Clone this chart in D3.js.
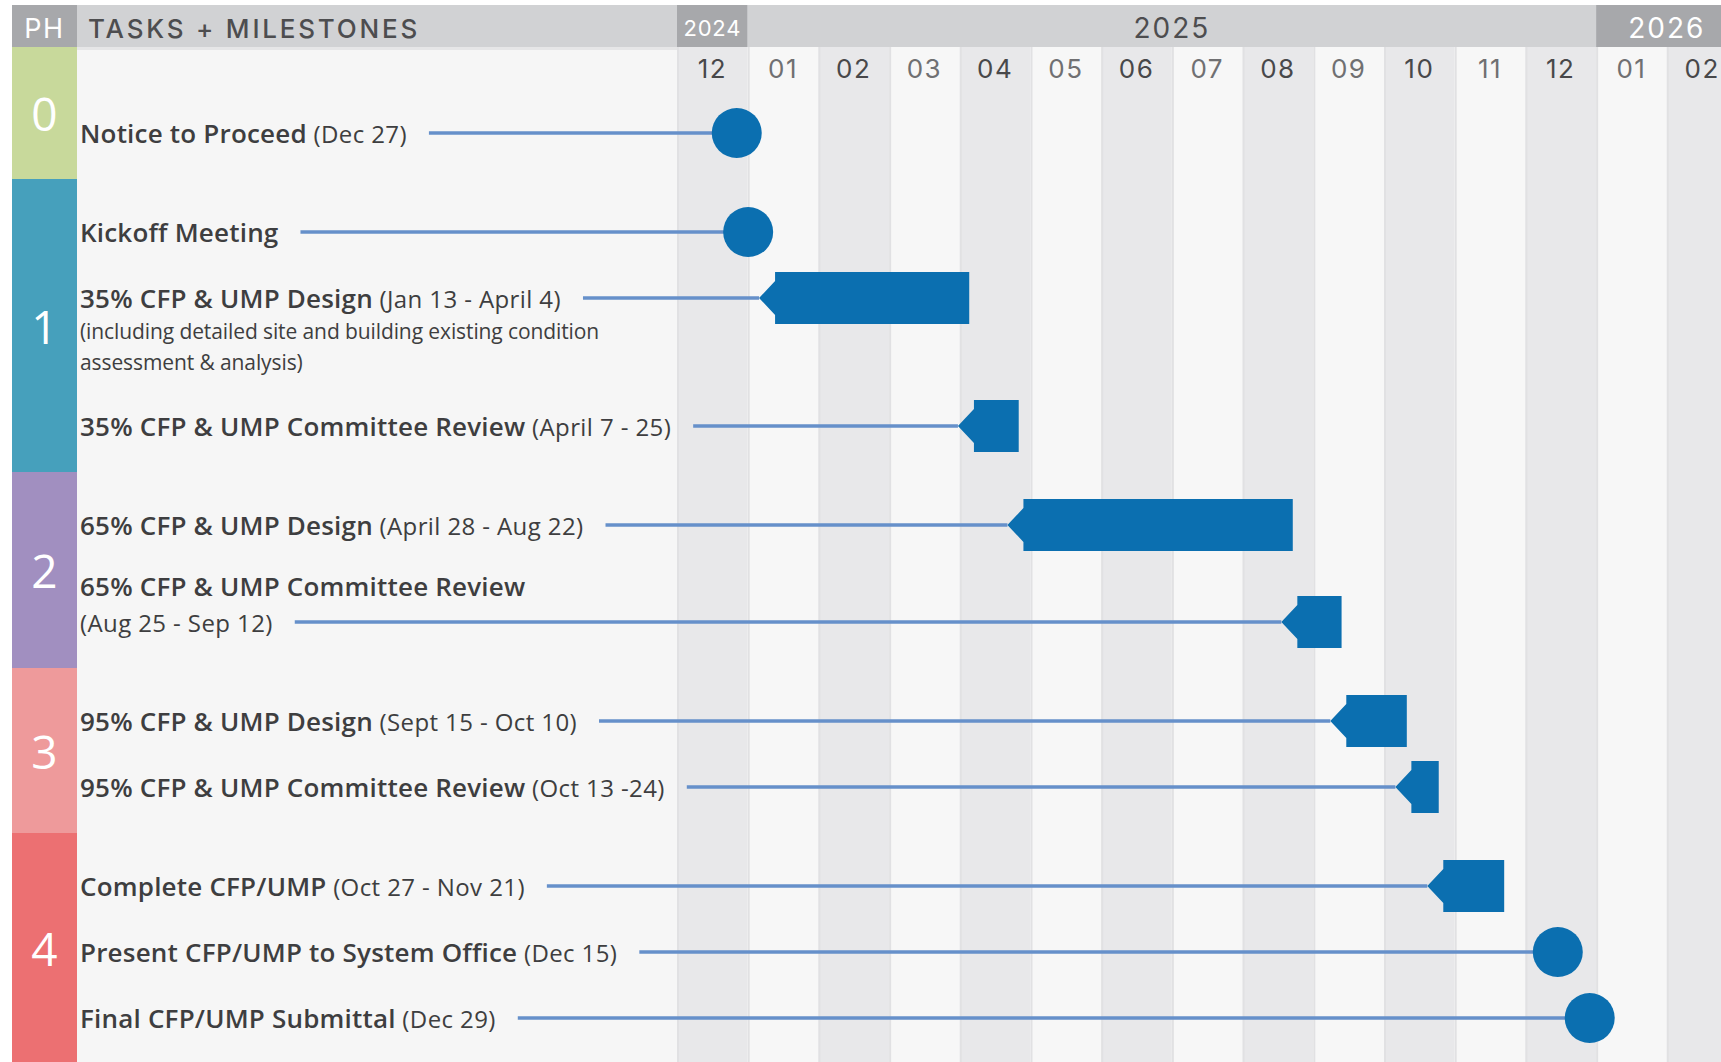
<!DOCTYPE html>
<html>
<head>
<meta charset="utf-8">
<script src="https://cdn.jsdelivr.net/npm/d3@7"></script>
<style>
  html, body { margin: 0; padding: 0; background: #fff; }
  svg { display: block; }
</style>
</head>
<body>
<svg id="chart" width="1721" height="1062"></svg>
<script>
// timeline data
var months = ["2024-12", "2025-01", "2025-02", "2025-03", "2025-04", "2025-05", "2025-06",
              "2025-07", "2025-08", "2025-09", "2025-10", "2025-11", "2025-12", "2026-01", "2026-02"];
var monthLabels = ["12", "01", "02", "03", "04", "05", "06", "07", "08", "09", "10", "11", "12", "01", "02"];
var years = ["2024", "2025", "2026"];

var phases = ["0", "1", "2", "3", "4"];
var phaseColors = ["#c8d99b", "#46a0bc", "#a18fc0", "#ee9a9b", "#ec7072"];

var taskNames = ["Notice to Proceed", "Kickoff Meeting", "35% CFP & UMP Design",
  "35% CFP & UMP Committee Review", "65% CFP & UMP Design", "65% CFP & UMP Committee Review",
  "95% CFP & UMP Design", "95% CFP & UMP Committee Review", "Complete CFP/UMP",
  "Present CFP/UMP to System Office", "Final CFP/UMP Submittal"];
var taskDates = ["(Dec 27)", "", "(Jan 13 - April 4)", "(April 7 - 25)", "(April 28 - Aug 22)",
  "(Aug 25 - Sep 12)", "(Sept 15 - Oct 10)", "(Oct 13 -24)", "(Oct 27 - Nov 21)", "(Dec 15)", "(Dec 29)"];
var taskNotes = [[], [], ["(including detailed site and building existing condition", "assessment & analysis)"],
  [], [], [], [], [], [], [], []];
var taskDateOnNewLine = [false, false, false, false, false, true, false, false, false, false, false];
var taskPhase = [0, 1, 1, 1, 2, 2, 3, 3, 4, 4, 4];
var taskStart = ["2024-12-27", "2025-01-01", "2025-01-13", "2025-04-07", "2025-04-28", "2025-08-25",
  "2025-09-15", "2025-10-13", "2025-10-27", "2025-12-15", "2025-12-29"];
var taskEnd = [null, null, "2025-04-04", "2025-04-25", "2025-08-22", "2025-09-12",
  "2025-10-10", "2025-10-24", "2025-11-21", null, null];

var width = 1721, height = 1062;
var left = 12, phW = 65, chartX = 677, colW = 70.7;
var headTop = 5, headBot = 47;
var rowStep = 66, lineStep = 31, phaseGap = 33, firstRowY = 133;

var svg = d3.select("#chart");

var x = d3.scaleBand()
  .domain(months)
  .range([chartX, chartX + colW * months.length])
  .padding(0);

var parse = d3.timeParse("%Y-%m-%d");
// position inside a month column (frac: 0 start of day, 1 end of day)
function xDate(s, frac) {
  var d = parse(s);
  var key = d3.timeFormat("%Y-%m")(d);
  var days = new Date(d.getFullYear(), d.getMonth() + 1, 0).getDate();
  return x(key) + (d.getDate() - 1 + frac) / days * x.bandwidth();
}

// row positions from text line counts and phase changes
var rowsY = [];
var yy = firstRowY;
taskNames.forEach(function(n, i) {
  if (i > 0) {
    yy += rowStep;
    if (taskPhase[i] !== taskPhase[i - 1]) yy += phaseGap;
    yy += taskNotes[i - 1].length * lineStep;
    if (taskDateOnNewLine[i]) yy += lineStep;
  }
  rowsY.push(yy);
});
var y = d3.scaleOrdinal().domain(taskNames).range(rowsY);

var tasks = taskNames.map(function(n, i) {
  return { name: n, date: taskDates[i], notes: taskNotes[i], wrap: taskDateOnNewLine[i],
           phase: taskPhase[i], start: taskStart[i], end: taskEnd[i] };
});

// ---- backgrounds
svg.append("rect").attr("x", left + phW).attr("y", headBot)
  .attr("width", chartX - left - phW).attr("height", height - headBot).attr("fill", "#f6f6f6");
svg.append("rect").attr("x", left + phW).attr("y", headBot)
  .attr("width", chartX - left - phW).attr("height", 3).attr("fill", "#e6e6e7");

svg.selectAll("rect.col").data(months).enter().append("rect")
  .attr("class", "col")
  .attr("x", function(d) { return x(d); })
  .attr("y", headBot)
  .attr("width", x.bandwidth())
  .attr("height", height - headBot)
  .attr("fill", function(d, i) { return i % 2 === 0 ? "#e8e8ea" : "#f7f7f7"; });

svg.selectAll("rect.sep").data(months).enter().append("rect")
  .attr("class", "sep")
  .attr("x", function(d) { return x(d); })
  .attr("y", headBot)
  .attr("width", 2)
  .attr("height", height - headBot)
  .attr("fill", "#e1e1e3");

// ---- header
var headMid = (headTop + headBot) / 2 + 2;
svg.append("rect").attr("x", left).attr("y", headTop).attr("width", phW)
  .attr("height", headBot - headTop).attr("fill", "#a7a8ab");
svg.append("rect").attr("x", left + phW).attr("y", headTop).attr("width", chartX - left - phW)
  .attr("height", headBot - headTop).attr("fill", "#d1d2d4");
svg.append("text").attr("x", left + phW / 2).attr("y", headMid)
  .attr("text-anchor", "middle").attr("dominant-baseline", "central")
  .attr("font-family", "Inter").attr("font-size", 27).attr("letter-spacing", 1.5)
  .attr("fill", "#fff")
  .text("PH");
svg.append("text").attr("x", left + phW + 11).attr("y", headMid)
  .attr("dominant-baseline", "central")
  .attr("font-family", "Inter").attr("font-size", 26).attr("font-weight", 500)
  .attr("letter-spacing", 2.8)
  .attr("fill", "#4d4d4f")
  .text("TASKS + MILESTONES");

var yearSpans = years.map(function(yr) {
  var ms = months.filter(function(m) { return m.slice(0, 4) === yr; });
  var x0 = x(ms[0]), x1 = x(ms[ms.length - 1]) + x.bandwidth();
  return { year: yr, x0: x0, x1: x1, main: ms.length > 2 };
});
svg.selectAll("rect.year").data(yearSpans).enter().append("rect")
  .attr("x", function(d) { return d.x0; })
  .attr("y", headTop)
  .attr("width", function(d) { return d.x1 - d.x0; })
  .attr("height", headBot - headTop)
  .attr("fill", function(d) { return d.main ? "#d1d2d4" : "#a7a8ab"; });
svg.selectAll("text.year").data(yearSpans).enter().append("text")
  .attr("x", function(d) { return (d.x0 + d.x1) / 2; })
  .attr("y", headMid)
  .attr("text-anchor", "middle").attr("dominant-baseline", "central")
  .attr("font-family", "Inter")
  .attr("font-size", function(d) { return d.x1 - d.x0 < 100 ? 22 : 28; })
  .attr("letter-spacing", function(d) { return d.x1 - d.x0 < 100 ? 0.8 : 2; })
  .attr("fill", function(d) { return d.main ? "#4d4d4f" : "#fff"; })
  .text(function(d) { return d.year; });

svg.selectAll("text.month").data(months).enter().append("text")
  .attr("x", function(d) { return x(d) + x.bandwidth() / 2; })
  .attr("y", 68)
  .attr("text-anchor", "middle").attr("dominant-baseline", "central")
  .attr("font-family", "Inter").attr("font-size", 26).attr("letter-spacing", 1.5)
  .attr("fill", function(d, i) { return i % 2 === 0 ? "#48484a" : "#707072"; })
  .text(function(d, i) { return monthLabels[i]; });

// ---- phase column
var phaseBands = phases.map(function(p, pi) {
  var idx = tasks.filter(function(t) { return t.phase === pi; });
  var last = idx[idx.length - 1];
  return { label: p, color: phaseColors[pi], bottom: pi === phases.length - 1 ? height : y(last.name) + 46 };
});
phaseBands.forEach(function(b, i) { b.top = i === 0 ? headBot : phaseBands[i - 1].bottom; });

svg.selectAll("rect.phase").data(phaseBands).enter().append("rect")
  .attr("x", left).attr("y", function(d) { return d.top; })
  .attr("width", phW).attr("height", function(d) { return d.bottom - d.top; })
  .attr("fill", function(d) { return d.color; });
svg.selectAll("text.phase").data(phaseBands).enter().append("text")
  .attr("x", left + phW / 2)
  .attr("y", function(d) { return (d.top + d.bottom) / 2; })
  .attr("text-anchor", "middle").attr("dominant-baseline", "central")
  .attr("font-family", "Open Sans").attr("font-size", 46).attr("fill", "#fff")
  .text(function(d) { return d.label; });

// ---- task labels
var labelX = 80;
var gLabels = svg.append("g").attr("font-family", "Open Sans").attr("fill", "#3e3e40");
tasks.forEach(function(t) {
  var ty = y(t.name);
  var rowText;
  if (t.wrap) {
    gLabels.append("text").attr("x", labelX).attr("y", ty - 36)
      .attr("dominant-baseline", "central").attr("font-size", 26).attr("font-weight", 600)
      .attr("letter-spacing", 0.2)
      .text(t.name);
    rowText = gLabels.append("text").attr("x", labelX).attr("y", ty)
      .attr("dominant-baseline", "central").attr("font-size", 24).attr("letter-spacing", 0.4)
      .text(t.date);
  } else {
    rowText = gLabels.append("text").attr("x", labelX).attr("y", ty)
      .attr("dominant-baseline", "central");
    rowText.append("tspan").attr("font-size", 26).attr("font-weight", 600)
      .attr("letter-spacing", 0.2).text(t.name);
    if (t.date) rowText.append("tspan").attr("font-size", 24).attr("letter-spacing", 0.4)
      .text(" " + t.date);
  }
  t.notes.forEach(function(n, k) {
    gLabels.append("text").attr("x", labelX).attr("y", ty + (k + 1) * lineStep + 2)
      .attr("dominant-baseline", "central").attr("font-size", 21).attr("letter-spacing", -0.1)
      .text(n);
  });
  t.lineFrom = labelX + rowText.node().getComputedTextLength() + 22;
});

// ---- leaders, bars and milestones
var blue = "#0b6fb0", r = 25, barH = 52, tipW = 16, tipH = 17;
tasks.forEach(function(t) {
  t.y = y(t.name);
  if (t.end) {
    t.x0 = xDate(t.start, 0);
    t.x1 = xDate(t.end, 1);
    t.lineTo = t.x0 - tipW;
  } else {
    t.cx = xDate(t.start, 0.2);
    t.lineTo = t.cx;
  }
});

svg.selectAll("line.leader").data(tasks).enter().append("line")
  .attr("x1", function(d) { return d.lineFrom; })
  .attr("x2", function(d) { return d.lineTo; })
  .attr("y1", function(d) { return d.y; })
  .attr("y2", function(d) { return d.y; })
  .attr("stroke", "#6690ca").attr("stroke-width", 3.5);

var bars = tasks.filter(function(t) { return t.end; });
var miles = tasks.filter(function(t) { return !t.end; });

svg.selectAll("path.bar").data(bars).enter().append("path")
  .attr("d", function(d) {
    return "M" + d.x0 + "," + (d.y - barH / 2) +
      "H" + d.x1 + "V" + (d.y + barH / 2) + "H" + d.x0 +
      "V" + (d.y + tipH) + "L" + (d.x0 - tipW) + "," + d.y +
      "L" + d.x0 + "," + (d.y - tipH) + "Z";
  })
  .attr("fill", blue);

svg.selectAll("circle.mile").data(miles).enter().append("circle")
  .attr("cx", function(d) { return d.cx; })
  .attr("cy", function(d) { return d.y; })
  .attr("r", r)
  .attr("fill", blue);
</script>
</body>
</html>
